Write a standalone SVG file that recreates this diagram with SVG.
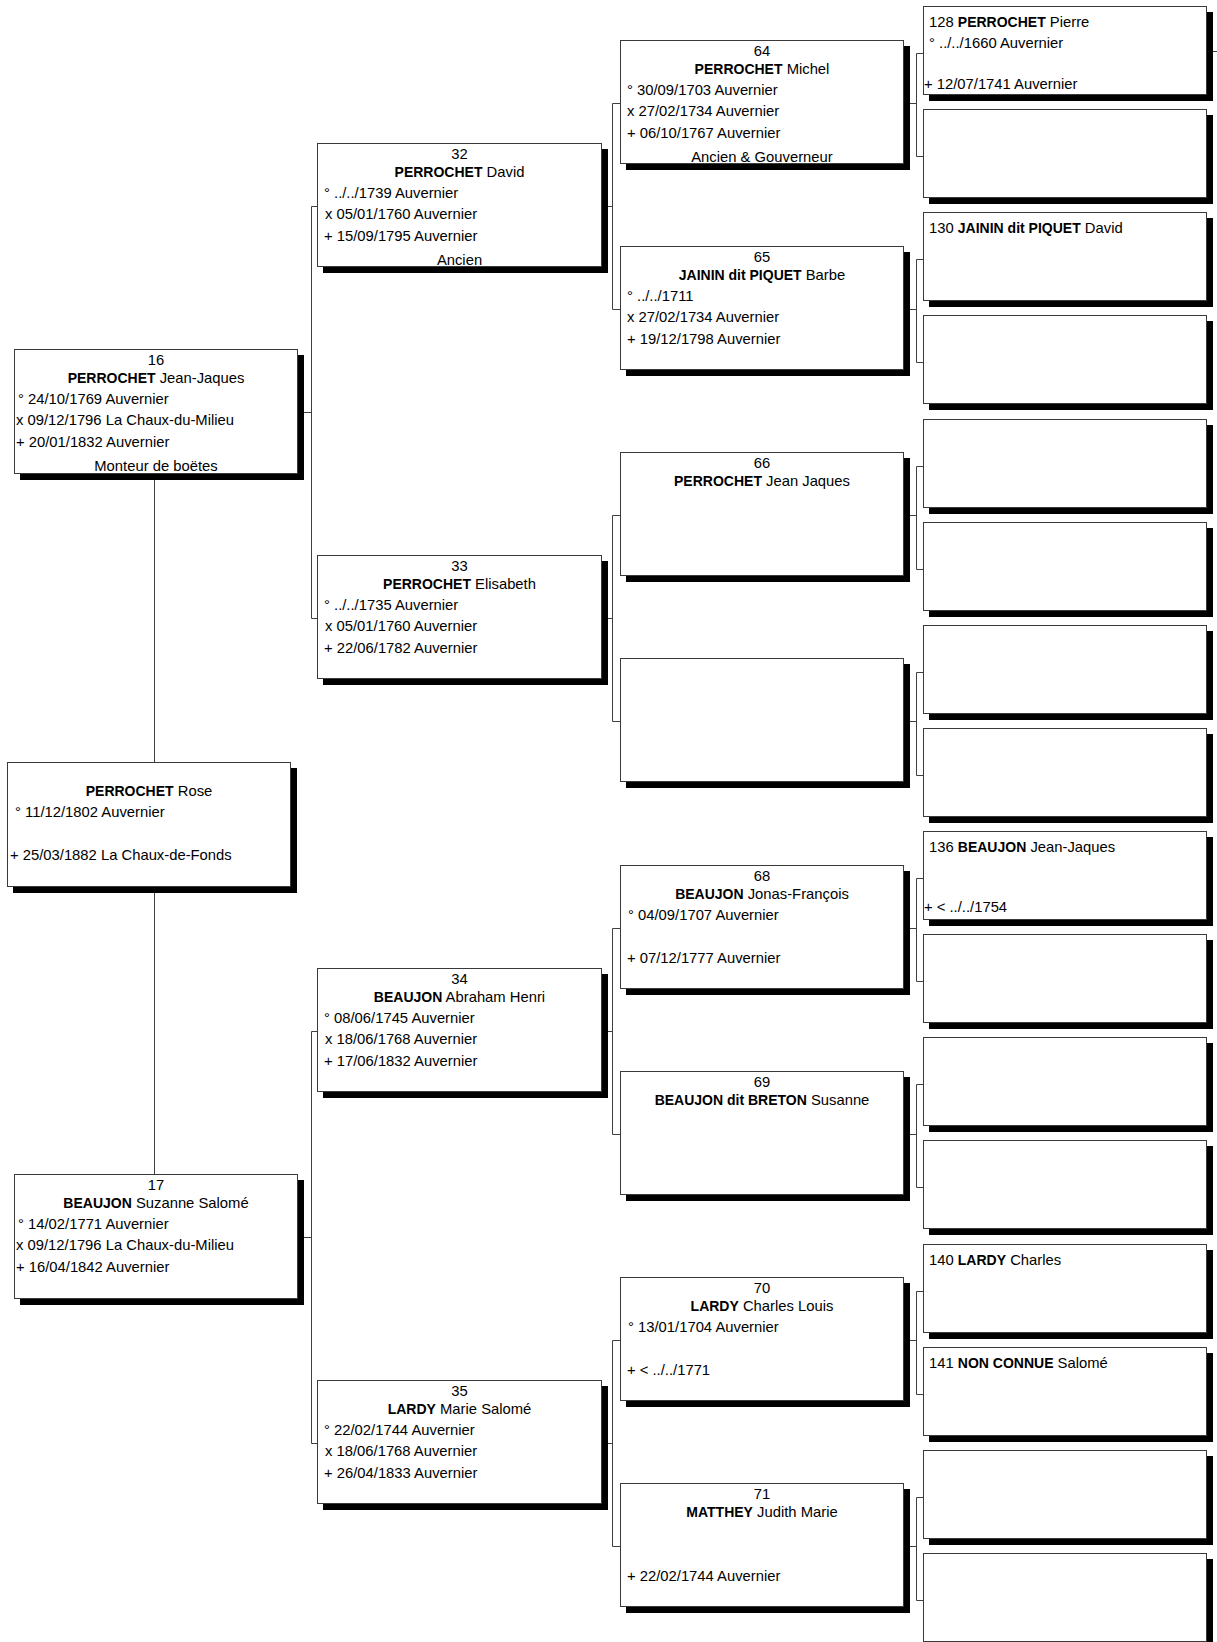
<svg xmlns="http://www.w3.org/2000/svg" width="1217" height="1642" viewBox="0 0 1217 1642">
<style>
.sh{fill:#000}
.bx{fill:#fff;stroke:#3a3a3a;stroke-width:1}
.ln{stroke:#404040;stroke-width:1;fill:none}
text{font-family:"Liberation Sans",Arial,sans-serif;font-size:14.8px;fill:#000}
.c{text-anchor:middle}
.b{font-weight:bold;font-size:14px}
</style>
<rect width="1217" height="1642" fill="#fff"/>
<g id="connectors" class="ln">
<path d="M154.5 474V762M154.5 887V1174"/>
<path d="M298 412.5H311.5M311.5 206.5V618.5M311.5 206.5H317M311.5 618.5H317"/>
<path d="M298 1237.5H311.5M311.5 1031.5V1443.5M311.5 1031.5H317M311.5 1443.5H317"/>
<path d="M602 206.5H612.5M612.5 103.5V309.5M612.5 103.5H620M612.5 309.5H620"/>
<path d="M602 618.5H612.5M612.5 515.5V721.5M612.5 515.5H620M612.5 721.5H620"/>
<path d="M602 1031.5H612.5M612.5 928.5V1134.5M612.5 928.5H620M612.5 1134.5H620"/>
<path d="M602 1443.5H612.5M612.5 1340.5V1546.5M612.5 1340.5H620M612.5 1546.5H620"/>
<path d="M904 103.5H916.5M916.5 53.5V156.5M916.5 53.5H923M916.5 156.5H923"/>
<path d="M904 309.5H916.5M916.5 259.5V362.5M916.5 259.5H923M916.5 362.5H923"/>
<path d="M904 515.5H916.5M916.5 466.5V569.5M916.5 466.5H923M916.5 569.5H923"/>
<path d="M904 721.5H916.5M916.5 672.5V775.5M916.5 672.5H923M916.5 775.5H923"/>
<path d="M904 928.5H916.5M916.5 878.5V981.5M916.5 878.5H923M916.5 981.5H923"/>
<path d="M904 1134.5H916.5M916.5 1084.5V1187.5M916.5 1084.5H923M916.5 1187.5H923"/>
<path d="M904 1340.5H916.5M916.5 1291.5V1394.5M916.5 1291.5H923M916.5 1394.5H923"/>
<path d="M904 1546.5H916.5M916.5 1497.5V1600.5M916.5 1497.5H923M916.5 1600.5H923"/>
<path d="M1207 51.5H1217"/>
</g>

<g id="n1">
<rect class="sh" x="13" y="768" width="284" height="125"/>
<rect class="bx" x="7.5" y="762.5" width="283" height="124"/>
<text class="c" x="149" y="796"><tspan class="b">PERROCHET</tspan> Rose</text>
<text x="15" y="817">° 11/12/1802 Auvernier</text>
<text x="10" y="860">+ 25/03/1882 La Chaux-de-Fonds</text>
</g>

<g id="n16">
<rect class="sh" x="20" y="355" width="284" height="125"/>
<rect class="bx" x="14.5" y="349.5" width="283" height="124"/>
<text class="c" x="156" y="365">16</text>
<text class="c" x="156" y="383"><tspan class="b">PERROCHET</tspan> Jean-Jaques</text>
<text x="18" y="404">° 24/10/1769 Auvernier</text>
<text x="16" y="425">x 09/12/1796 La Chaux-du-Milieu</text>
<text x="16" y="447">+ 20/01/1832 Auvernier</text>
<text class="c" x="156" y="471">Monteur de boëtes</text>
</g>

<g id="n17">
<rect class="sh" x="20" y="1180" width="284" height="125"/>
<rect class="bx" x="14.5" y="1174.5" width="283" height="124"/>
<text class="c" x="156" y="1190">17</text>
<text class="c" x="156" y="1208"><tspan class="b">BEAUJON</tspan> Suzanne Salomé</text>
<text x="18" y="1229">° 14/02/1771 Auvernier</text>
<text x="16" y="1250">x 09/12/1796 La Chaux-du-Milieu</text>
<text x="16" y="1272">+ 16/04/1842 Auvernier</text>
</g>

<g id="n32">
<rect class="sh" x="323" y="149" width="285" height="124"/>
<rect class="bx" x="317.5" y="143.5" width="284" height="123"/>
<text class="c" x="459.5" y="159">32</text>
<text class="c" x="459.5" y="177"><tspan class="b">PERROCHET</tspan> David</text>
<text x="324" y="198">° ../../1739 Auvernier</text>
<text x="325" y="219">x 05/01/1760 Auvernier</text>
<text x="324" y="241">+ 15/09/1795 Auvernier</text>
<text class="c" x="459.5" y="265">Ancien</text>
</g>

<g id="n33">
<rect class="sh" x="323" y="561" width="285" height="124"/>
<rect class="bx" x="317.5" y="555.5" width="284" height="123"/>
<text class="c" x="459.5" y="571">33</text>
<text class="c" x="459.5" y="589"><tspan class="b">PERROCHET</tspan> Elisabeth</text>
<text x="324" y="610">° ../../1735 Auvernier</text>
<text x="325" y="631">x 05/01/1760 Auvernier</text>
<text x="324" y="653">+ 22/06/1782 Auvernier</text>
</g>

<g id="n34">
<rect class="sh" x="323" y="974" width="285" height="124"/>
<rect class="bx" x="317.5" y="968.5" width="284" height="123"/>
<text class="c" x="459.5" y="984">34</text>
<text class="c" x="459.5" y="1002"><tspan class="b">BEAUJON</tspan> Abraham Henri</text>
<text x="324" y="1023">° 08/06/1745 Auvernier</text>
<text x="325" y="1044">x 18/06/1768 Auvernier</text>
<text x="324" y="1066">+ 17/06/1832 Auvernier</text>
</g>

<g id="n35">
<rect class="sh" x="323" y="1386" width="285" height="124"/>
<rect class="bx" x="317.5" y="1380.5" width="284" height="123"/>
<text class="c" x="459.5" y="1396">35</text>
<text class="c" x="459.5" y="1414"><tspan class="b">LARDY</tspan> Marie Salomé</text>
<text x="324" y="1435">° 22/02/1744 Auvernier</text>
<text x="325" y="1456">x 18/06/1768 Auvernier</text>
<text x="324" y="1478">+ 26/04/1833 Auvernier</text>
</g>

<g id="n64">
<rect class="sh" x="626" y="46" width="284" height="124"/>
<rect class="bx" x="620.5" y="40.5" width="283" height="123"/>
<text class="c" x="762" y="56">64</text>
<text class="c" x="762" y="74"><tspan class="b">PERROCHET</tspan> Michel</text>
<text x="627" y="95">° 30/09/1703 Auvernier</text>
<text x="627" y="116">x 27/02/1734 Auvernier</text>
<text x="627" y="138">+ 06/10/1767 Auvernier</text>
<text class="c" x="762" y="162">Ancien &amp; Gouverneur</text>
</g>

<g id="n65">
<rect class="sh" x="626" y="252" width="284" height="124"/>
<rect class="bx" x="620.5" y="246.5" width="283" height="123"/>
<text class="c" x="762" y="262">65</text>
<text class="c" x="762" y="280"><tspan class="b">JAININ dit PIQUET</tspan> Barbe</text>
<text x="627" y="301">° ../../1711</text>
<text x="627" y="322">x 27/02/1734 Auvernier</text>
<text x="627" y="344">+ 19/12/1798 Auvernier</text>
</g>

<g id="n66">
<rect class="sh" x="626" y="458" width="284" height="124"/>
<rect class="bx" x="620.5" y="452.5" width="283" height="123"/>
<text class="c" x="762" y="468">66</text>
<text class="c" x="762" y="486"><tspan class="b">PERROCHET</tspan> Jean Jaques</text>
</g>

<g id="n67">
<rect class="sh" x="626" y="664" width="284" height="124"/>
<rect class="bx" x="620.5" y="658.5" width="283" height="123"/>
</g>

<g id="n68">
<rect class="sh" x="626" y="871" width="284" height="124"/>
<rect class="bx" x="620.5" y="865.5" width="283" height="123"/>
<text class="c" x="762" y="881">68</text>
<text class="c" x="762" y="899"><tspan class="b">BEAUJON</tspan> Jonas-François</text>
<text x="628" y="920">° 04/09/1707 Auvernier</text>
<text x="627" y="963">+ 07/12/1777 Auvernier</text>
</g>

<g id="n69">
<rect class="sh" x="626" y="1077" width="284" height="124"/>
<rect class="bx" x="620.5" y="1071.5" width="283" height="123"/>
<text class="c" x="762" y="1087">69</text>
<text class="c" x="762" y="1105"><tspan class="b">BEAUJON dit BRETON</tspan> Susanne</text>
</g>

<g id="n70">
<rect class="sh" x="626" y="1283" width="284" height="124"/>
<rect class="bx" x="620.5" y="1277.5" width="283" height="123"/>
<text class="c" x="762" y="1293">70</text>
<text class="c" x="762" y="1311"><tspan class="b">LARDY</tspan> Charles Louis</text>
<text x="628" y="1332">° 13/01/1704 Auvernier</text>
<text x="627" y="1375">+ &lt; ../../1771</text>
</g>

<g id="n71">
<rect class="sh" x="626" y="1489" width="284" height="124"/>
<rect class="bx" x="620.5" y="1483.5" width="283" height="123"/>
<text class="c" x="762" y="1499">71</text>
<text class="c" x="762" y="1517"><tspan class="b">MATTHEY</tspan> Judith Marie</text>
<text x="627" y="1581">+ 22/02/1744 Auvernier</text>
</g>

<g id="n128">
<rect class="sh" x="929" y="12" width="284" height="89"/>
<rect class="bx" x="923.5" y="6.5" width="283" height="88"/>
<text x="929" y="27">128 <tspan class="b">PERROCHET</tspan> Pierre</text>
<text x="929" y="48">° ../../1660 Auvernier</text>
<text x="924" y="89">+ 12/07/1741 Auvernier</text>
</g>
<g id="n129">
<rect class="sh" x="929" y="115" width="284" height="89"/>
<rect class="bx" x="923.5" y="109.5" width="283" height="88"/>
</g>
<g id="n130">
<rect class="sh" x="929" y="218" width="284" height="89"/>
<rect class="bx" x="923.5" y="212.5" width="283" height="88"/>
<text x="929" y="233">130 <tspan class="b">JAININ dit PIQUET</tspan> David</text>
</g>
<g id="n131">
<rect class="sh" x="929" y="321" width="284" height="89"/>
<rect class="bx" x="923.5" y="315.5" width="283" height="88"/>
</g>
<g id="n132">
<rect class="sh" x="929" y="425" width="284" height="89"/>
<rect class="bx" x="923.5" y="419.5" width="283" height="88"/>
</g>
<g id="n133">
<rect class="sh" x="929" y="528" width="284" height="89"/>
<rect class="bx" x="923.5" y="522.5" width="283" height="88"/>
</g>
<g id="n134">
<rect class="sh" x="929" y="631" width="284" height="89"/>
<rect class="bx" x="923.5" y="625.5" width="283" height="88"/>
</g>
<g id="n135">
<rect class="sh" x="929" y="734" width="284" height="89"/>
<rect class="bx" x="923.5" y="728.5" width="283" height="88"/>
</g>
<g id="n136">
<rect class="sh" x="929" y="837" width="284" height="89"/>
<rect class="bx" x="923.5" y="831.5" width="283" height="88"/>
<text x="929" y="852">136 <tspan class="b">BEAUJON</tspan> Jean-Jaques</text>
<text x="924" y="912">+ &lt; ../../1754</text>
</g>
<g id="n137">
<rect class="sh" x="929" y="940" width="284" height="89"/>
<rect class="bx" x="923.5" y="934.5" width="283" height="88"/>
</g>
<g id="n138">
<rect class="sh" x="929" y="1043" width="284" height="89"/>
<rect class="bx" x="923.5" y="1037.5" width="283" height="88"/>
</g>
<g id="n139">
<rect class="sh" x="929" y="1146" width="284" height="89"/>
<rect class="bx" x="923.5" y="1140.5" width="283" height="88"/>
</g>
<g id="n140">
<rect class="sh" x="929" y="1250" width="284" height="89"/>
<rect class="bx" x="923.5" y="1244.5" width="283" height="88"/>
<text x="929" y="1265">140 <tspan class="b">LARDY</tspan> Charles</text>
</g>
<g id="n141">
<rect class="sh" x="929" y="1353" width="284" height="89"/>
<rect class="bx" x="923.5" y="1347.5" width="283" height="88"/>
<text x="929" y="1368">141 <tspan class="b">NON CONNUE</tspan> Salomé</text>
</g>
<g id="n142">
<rect class="sh" x="929" y="1456" width="284" height="89"/>
<rect class="bx" x="923.5" y="1450.5" width="283" height="88"/>
</g>
<g id="n143">
<rect class="sh" x="929" y="1559" width="284" height="89"/>
<rect class="bx" x="923.5" y="1553.5" width="283" height="88"/>
</g>
</svg>
